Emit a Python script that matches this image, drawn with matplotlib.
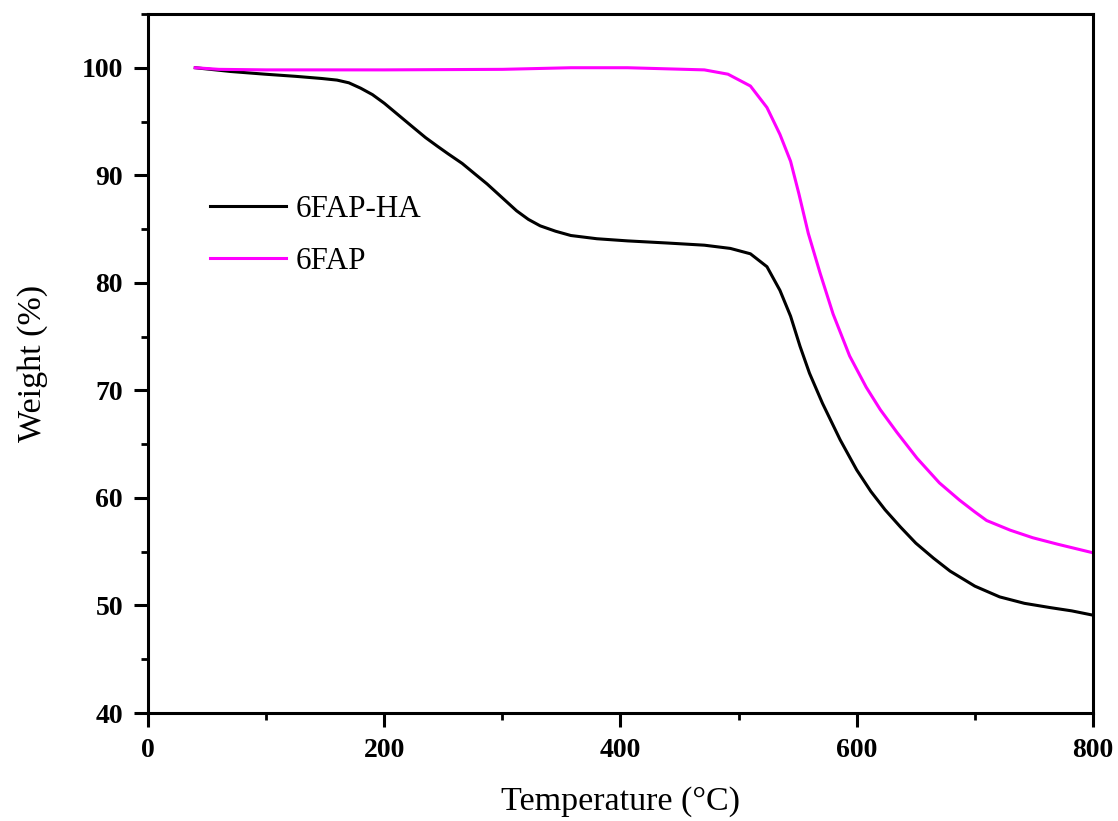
import matplotlib
matplotlib.use("Agg")
import matplotlib.pyplot as plt
from matplotlib.ticker import MultipleLocator

# 6FAP-HA
temp_ha = [40, 70, 99, 125, 147, 160, 170, 180, 190, 200, 212, 224, 235, 245, 254, 266, 277, 287, 296, 304,
           312, 322, 332, 345, 358, 380, 406, 440, 471, 493, 510, 524, 535, 544, 552, 560, 571, 586, 600,
           612, 624, 637, 650, 665, 679, 700, 721, 742, 764, 782, 800]
w_ha = [100.0, 99.65, 99.4, 99.2, 99.0, 98.85, 98.6, 98.1, 97.5, 96.7, 95.6, 94.5, 93.5, 92.7, 92.0, 91.1,
        90.1, 89.2, 88.3, 87.5, 86.7, 85.9, 85.3, 84.8, 84.4, 84.1, 83.9, 83.7, 83.5, 83.2, 82.7, 81.5, 79.3,
        76.9, 74.1, 71.6, 68.8, 65.4, 62.6, 60.6, 58.9, 57.3, 55.8, 54.4, 53.2, 51.8, 50.8, 50.2, 49.8,
        49.5, 49.1]

# 6FAP
temp_p = [40, 60, 100, 200, 300, 358, 406, 471, 491, 510, 524, 535, 544, 551, 559, 569, 580, 594, 608,
          620, 634, 651, 670, 687, 700, 710, 730, 749, 770, 800]
w_p = [100.0, 99.85, 99.8, 99.8, 99.85, 100.0, 100.0, 99.8, 99.4, 98.3, 96.3, 93.8, 91.3, 88.3, 84.6,
       80.9, 77.1, 73.2, 70.3, 68.2, 66.1, 63.7, 61.4, 59.8, 58.7, 57.9, 57.0, 56.3, 55.7, 54.9]

plt.rcParams['font.family'] = ['Liberation Serif', 'DejaVu Serif']

fig = plt.figure(figsize=(11.18, 8.21), dpi=100)
ax = fig.add_axes([0.1324, 0.1315, 0.8452, 0.8515])

ax.plot(temp_ha, w_ha, color='black', lw=2.2, label='6FAP-HA')
ax.plot(temp_p, w_p, color='#ff00ff', lw=2.2, label='6FAP')

ax.set_xlim(0, 800)
ax.set_ylim(40, 105)
ax.xaxis.set_major_locator(MultipleLocator(200))
ax.xaxis.set_minor_locator(MultipleLocator(100))
ax.yaxis.set_major_locator(MultipleLocator(10))
ax.yaxis.set_minor_locator(MultipleLocator(5))

for s in ax.spines.values():
    s.set_linewidth(2.2)

ax.tick_params(axis='both', which='major', direction='out', length=10, width=2.2,
               labelsize=20, pad=8)
ax.tick_params(axis='both', which='minor', direction='out', length=5, width=2.0)
for lab in ax.get_xticklabels() + ax.get_yticklabels():
    lab.set_fontweight('bold')

ax.set_xlabel('Temperature (°C)', fontsize=24.5, labelpad=17)
ax.set_ylabel('Weight (%)', fontsize=24.5, labelpad=24)

leg = ax.legend(loc='upper left', bbox_to_anchor=(0.052, 0.759), frameon=False, fontsize=22.4,
                handlelength=2.45, handletextpad=0.32, labelspacing=0.73, borderaxespad=0)

fig.savefig('out.png', dpi=100)
